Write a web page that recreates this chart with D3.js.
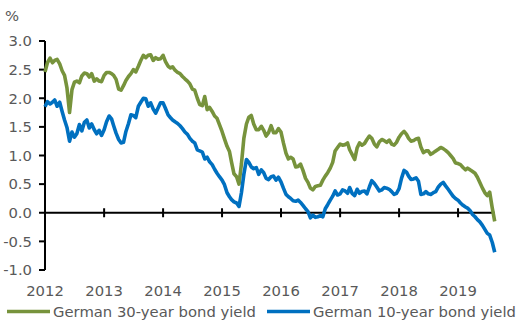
<!DOCTYPE html>
<html>
<head>
<meta charset="utf-8">
<script src="https://cdn.jsdelivr.net/npm/d3@7"></script>
<style>
  html, body { margin: 0; padding: 0; background: #fff; }
  svg { display: block; }
  text { font-family: "DejaVu Sans", Verdana, sans-serif; fill: #595959; }
</style>
</head>
<body>
<svg id="chart" width="529" height="328"></svg>
<script>
// German government bond yields, %, sampled on the 1st and 16th of each month
const startMonth = new Date(Date.UTC(2012, 0, 1));
const endMonth = new Date(Date.UTC(2019, 8, 1));
const sampleDates = d3.utcMonth.range(startMonth, endMonth)
  .flatMap(m => [m, d3.utcDay.offset(m, 15)]);

const yield30 = [
  2.46, 2.62, 2.70, 2.62, 2.66, 2.68, 2.60, 2.48, 2.40, 2.18, 1.75, 2.15,
  2.28, 2.30, 2.27, 2.39, 2.44, 2.43, 2.37, 2.43, 2.30, 2.34, 2.30, 2.29,
  2.40, 2.45, 2.45, 2.43, 2.40, 2.33, 2.16, 2.14, 2.22, 2.31, 2.38, 2.43,
  2.50, 2.46, 2.56, 2.66, 2.75, 2.71, 2.75, 2.76, 2.66, 2.71, 2.68, 2.69,
  2.75, 2.64, 2.56, 2.53, 2.55, 2.49, 2.45, 2.43, 2.38, 2.34, 2.30, 2.25,
  2.16, 2.14, 2.00, 1.89, 1.87, 2.03, 1.80, 1.84, 1.77, 1.69, 1.65, 1.54,
  1.42, 1.29, 1.16, 1.07, 0.88, 0.68, 0.63, 0.50, 0.85, 1.30, 1.55, 1.67,
  1.70, 1.55, 1.45, 1.45, 1.51, 1.44, 1.34, 1.40, 1.52, 1.40, 1.40, 1.47,
  1.41, 1.22, 1.04, 0.94, 0.97, 0.94, 0.80, 0.81, 0.85, 0.74, 0.60, 0.53,
  0.43, 0.40, 0.46, 0.47, 0.48, 0.57, 0.64, 0.70, 0.78, 0.88, 1.08, 1.14,
  1.20, 1.18, 1.19, 1.22, 1.10, 1.02, 0.93, 1.13, 1.22, 1.18, 1.21, 1.28,
  1.34, 1.30, 1.20, 1.15, 1.24, 1.28, 1.26, 1.23, 1.27, 1.20, 1.18, 1.23,
  1.32, 1.38, 1.42, 1.37, 1.30, 1.25, 1.26, 1.29, 1.30, 1.15, 1.05, 1.08,
  1.08, 1.02, 1.05, 1.08, 1.11, 1.14, 1.12, 1.09, 1.05, 1.00, 0.95, 0.87,
  0.86, 0.84, 0.79, 0.75, 0.78, 0.75, 0.72, 0.69, 0.62, 0.53, 0.43, 0.35,
  0.30, 0.36, 0.08, -0.15
];

const yield10 = [
  1.85, 1.94, 1.90, 1.93, 1.97, 1.86, 1.93, 1.77, 1.62, 1.49, 1.25, 1.41,
  1.32, 1.38, 1.54, 1.43, 1.58, 1.62, 1.48, 1.55, 1.45, 1.38, 1.44, 1.35,
  1.45, 1.59, 1.69, 1.64, 1.52, 1.39, 1.28, 1.22, 1.23, 1.42, 1.56, 1.71,
  1.70, 1.66, 1.86, 1.93, 2.00, 1.99, 1.86, 1.92, 1.81, 1.74, 1.83, 1.92,
  1.92, 1.82, 1.71, 1.66, 1.62, 1.59, 1.56, 1.52, 1.47, 1.41, 1.37, 1.30,
  1.25, 1.22, 1.10, 1.08, 1.06, 0.94, 0.97, 0.89, 0.84, 0.76, 0.69, 0.63,
  0.57, 0.49, 0.35, 0.28, 0.23, 0.19, 0.17, 0.11, 0.35, 0.67, 0.93, 0.88,
  0.80, 0.77, 0.79, 0.67, 0.75, 0.70, 0.60, 0.58, 0.63, 0.64, 0.57, 0.62,
  0.54, 0.43, 0.32, 0.28, 0.25, 0.21, 0.20, 0.22, 0.18, 0.13, 0.07, 0.02,
  -0.09, -0.04, -0.08, -0.07, -0.05, -0.07, 0.07, 0.14, 0.22, 0.29, 0.38, 0.31,
  0.33, 0.40, 0.38, 0.34, 0.44, 0.34, 0.30, 0.41, 0.34, 0.37, 0.38, 0.33,
  0.45, 0.56, 0.51, 0.45, 0.38, 0.40, 0.44, 0.43, 0.41, 0.37, 0.32, 0.34,
  0.42, 0.60, 0.74, 0.71, 0.64, 0.58, 0.59, 0.61, 0.55, 0.32, 0.33, 0.37,
  0.33, 0.32, 0.35, 0.37, 0.45, 0.50, 0.53, 0.47, 0.41, 0.35, 0.29, 0.25,
  0.22, 0.17, 0.13, 0.10, 0.08, 0.04, -0.03, -0.07, -0.12, -0.16, -0.22, -0.29,
  -0.36, -0.39, -0.52, -0.69
];

const yearTicks = [2012, 2013, 2014, 2015, 2016, 2017, 2018, 2019];
const valueTicks = [-1.0, -0.5, 0.0, 0.5, 1.0, 1.5, 2.0, 2.5, 3.0];
const seriesNames = ["German 30-year bond yield", "German 10-year bond yield"];
const seriesColors = ["#77933C", "#0070C0"];

const svg = d3.select("#chart");

const x = d3.scaleUtc()
  .domain([new Date(Date.UTC(2012, 0, 1)), new Date(Date.UTC(2020, 0, 1))])
  .range([45, 517]);
const y = d3.scaleLinear().domain([-1, 3]).range([270, 41]);

const fontSize = 14.8;

// unit label
svg.append("text").attr("x", 5).attr("y", 21)
  .style("font-size", fontSize + "px").text("%");

// vertical axis
svg.append("line")
  .attr("x1", x.range()[0]).attr("x2", x.range()[0])
  .attr("y1", y(3)).attr("y2", y(-1))
  .attr("stroke", "#000").attr("stroke-width", 2);
const yt = svg.append("g");
yt.selectAll("line").data(valueTicks).join("line")
  .attr("x1", x.range()[0] - 6).attr("x2", x.range()[0])
  .attr("y1", d => y(d)).attr("y2", d => y(d))
  .attr("stroke", "#000").attr("stroke-width", 2);
yt.selectAll("text").data(valueTicks).join("text")
  .attr("x", 32).attr("y", d => y(d)).attr("dy", "0.36em")
  .attr("text-anchor", "end")
  .style("font-size", fontSize + "px")
  .text(d => d.toFixed(1));

// horizontal axis along zero
const lastDate = sampleDates[sampleDates.length - 1];
svg.append("line")
  .attr("x1", x.range()[0]).attr("x2", x(lastDate))
  .attr("y1", y(0)).attr("y2", y(0))
  .attr("stroke", "#000").attr("stroke-width", 2);
const yearDate = yr => new Date(Date.UTC(yr, 0, 1));
const xt = svg.append("g");
xt.selectAll("line").data(yearTicks).join("line")
  .attr("x1", d => x(yearDate(d))).attr("x2", d => x(yearDate(d)))
  .attr("y1", y(0) - 4.5).attr("y2", y(0) + 4.5)
  .attr("stroke", "#000").attr("stroke-width", 2);
xt.selectAll("text").data(yearTicks).join("text")
  .attr("x", d => x(yearDate(d))).attr("y", 295.5)
  .attr("text-anchor", "middle")
  .style("font-size", fontSize + "px")
  .text(d => d);

// series lines
const line = d3.line()
  .x((d, i) => x(sampleDates[i]))
  .y(d => y(d));
[yield30, yield10].forEach((values, k) => {
  svg.append("path")
    .attr("d", line(values))
    .attr("fill", "none")
    .attr("stroke", seriesColors[k])
    .attr("stroke-width", 3.6)
    .attr("stroke-linejoin", "round");
});

// legend
const legendX = [7, 267];
seriesNames.forEach((name, k) => {
  const g = svg.append("g");
  g.append("line")
    .attr("x1", legendX[k]).attr("x2", legendX[k] + 43)
    .attr("y1", 311.5).attr("y2", 311.5)
    .attr("stroke", seriesColors[k]).attr("stroke-width", 3.5);
  g.append("text")
    .attr("x", legendX[k] + 46).attr("y", 316.5)
    .style("font-size", fontSize + "px")
    .text(name);
});
</script>
</body>
</html>
